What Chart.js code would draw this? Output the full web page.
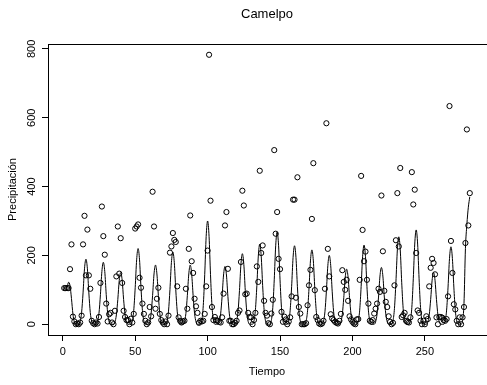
<!DOCTYPE html>
<html>
<head>
<meta charset="utf-8">
<script src="https://cdn.jsdelivr.net/npm/chart.js@4.4.1/dist/chart.umd.min.js"></script>
<style>
html, body { margin: 0; padding: 0; overflow: hidden; background: #fff; }
canvas { display: block; }
</style>
</head>
<body>
<canvas id="chart" width="491" height="385"></canvas>
<script>
// monthly precipitation (t = 1..281)
const precip = [
  105,105,105,105,160,232,22,8,0,2,0,5,
  25,232,315,142,275,142,103,10,3,0,5,2,
  21,120,342,256,202,60,8,29,33,5,0,39,
  139,284,147,250,120,39,21,12,12,0,16,5,
  30,278,284,290,135,106,60,30,10,0,5,50,
  23,385,284,45,74,106,30,12,5,0,8,0,
  25,208,226,265,245,239,110,20,10,5,8,10,
  103,45,219,316,183,149,74,52,33,4,10,8,
  10,30,110,214,783,359,50,12,21,12,10,7,
  5,20,89,287,326,161,10,10,0,0,4,10,
  33,40,181,388,345,87,89,33,21,20,0,12,
  33,168,123,446,207,229,68,33,25,3,0,31,
  71,506,263,326,190,160,36,7,22,14,0,8,
  20,81,362,362,77,427,50,31,0,0,0,3,
  55,113,158,306,468,99,21,12,2,0,2,10,
  103,584,219,139,29,17,12,7,4,2,10,30,
  157,123,100,129,68,23,14,7,2,0,14,15,
  129,431,274,183,211,129,60,10,7,12,31,45,
  60,103,94,374,212,97,65,50,23,7,0,4,
  113,244,381,226,454,21,26,33,10,7,5,20,
  442,348,391,207,40,33,10,0,10,0,23,15,
  110,164,190,178,145,20,0,21,21,19,12,10,
  15,81,634,242,149,58,43,10,0,20,0,20,
  50,236,566,287,381
];

// fitted seasonal curve
const fitted = [
  105,105,108,122,112,75,30,6,0,0,0,8,
  34,91,161,189,161,91,34,8,0,0,0,7,
  32,86,153,180,153,86,32,7,0,0,0,6,
  27,72,128,150,128,72,27,6,0,0,0,9,
  40,106,187,220,187,106,40,9,0,0,0,7,
  31,83,146,172,146,83,31,7,0,0,0,8,
  38,101,179,210,179,101,38,8,0,0,0,7,
  31,83,146,172,146,83,31,7,0,0,0,12,
  54,144,255,300,255,144,54,12,0,0,0,7,
  30,81,143,168,143,81,30,7,0,0,0,8,
  37,98,174,205,174,98,37,8,0,0,0,9,
  42,112,198,233,198,112,42,9,0,0,0,11,
  48,129,228,268,228,129,48,11,0,0,0,9,
  41,109,194,228,194,109,41,9,0,0,0,9,
  39,104,184,216,184,104,39,9,0,0,0,8,
  36,96,170,200,170,96,36,8,0,0,0,6,
  29,77,136,160,136,77,29,6,0,0,0,9,
  41,110,196,230,196,110,41,9,0,0,0,7,
  30,79,140,165,140,79,30,7,0,0,0,10,
  46,122,216,254,216,122,46,10,0,0,0,11,
  49,132,233,274,233,132,49,11,0,0,0,6,
  27,72,128,150,128,72,27,6,0,0,0,9,
  41,108,191,225,191,108,41,9,0,0,0,10,
  60,220,290,340,370
];

const xTicks = [0, 50, 100, 150, 200, 250];
const yTicks = [0, 200, 400, 600, 800];

const font = { family: '"Liberation Sans", Arial, sans-serif', size: 11 };
const n = precip.length;
const xMin = 1 - 0.04 * (n - 1), xMax = n + 0.04 * (n - 1);
const yMax = Math.max(...precip);
const yMin = -0.04 * yMax, yTop = yMax * 1.04;

const obsPts = precip.map((v, i) => ({ x: i + 1, y: v }));
const fitPts = fitted.map((v, i) => ({ x: i + 1, y: v }));

new Chart(document.getElementById('chart'), {
  type: 'scatter',
  data: {
    datasets: [
      {
        data: obsPts,
        showLine: false,
        pointRadius: 2.6,
        pointBorderWidth: 1,
        pointBorderColor: '#000',
        pointBackgroundColor: 'rgba(0,0,0,0)'
      },
      {
        data: fitPts,
        showLine: true,
        pointRadius: 0,
        borderColor: '#000',
        borderWidth: 1,
        cubicInterpolationMode: 'monotone'
      }
    ]
  },
  options: {
    responsive: false,
    animation: false,
    devicePixelRatio: 1,
    layout: { padding: { right: 1 } },
    plugins: {
      legend: { display: false },
      tooltip: { enabled: false },
      title: {
        display: true,
        text: 'Camelpo',
        fullSize: false,
        color: '#000',
        font: { family: font.family, size: 13, weight: 'normal' },
        padding: { top: 7, bottom: 0 }
      }
    },
    scales: {
      x: {
        type: 'linear', min: xMin, max: xMax,
        afterBuildTicks: s => { s.ticks = xTicks.map(v => ({ value: v })); },
        afterFit: s => { s.height = 50; },
        grid: { drawOnChartArea: false, color: '#000', tickLength: 6 },
        border: { color: '#000' },
        ticks: { color: '#000', font, padding: 4, maxRotation: 0 },
        title: { display: true, text: 'Tiempo', color: '#000', font, padding: { bottom: 6 } }
      },
      x2: {
        type: 'linear', position: 'top', min: xMin, max: xMax,
        afterFit: s => { s.height = 44 - 7 - 13 * 1.2; },
        grid: { drawOnChartArea: false, drawTicks: false },
        border: { color: '#000' },
        ticks: { display: false }
      },
      y: {
        type: 'linear', min: yMin, max: yTop,
        afterBuildTicks: s => { s.ticks = yTicks.map(v => ({ value: v })); },
        afterFit: s => { s.width = 48; },
        grid: { drawOnChartArea: false, color: '#000', tickLength: 6 },
        border: { color: '#000' },
        ticks: { color: '#000', font, padding: 1, minRotation: 90, maxRotation: 90, crossAlign: 'center' },
        title: { display: true, text: 'Precipitación', color: '#000', font, padding: { top: 6 } }
      }
    }
  }
});
</script>
</body>
</html>
